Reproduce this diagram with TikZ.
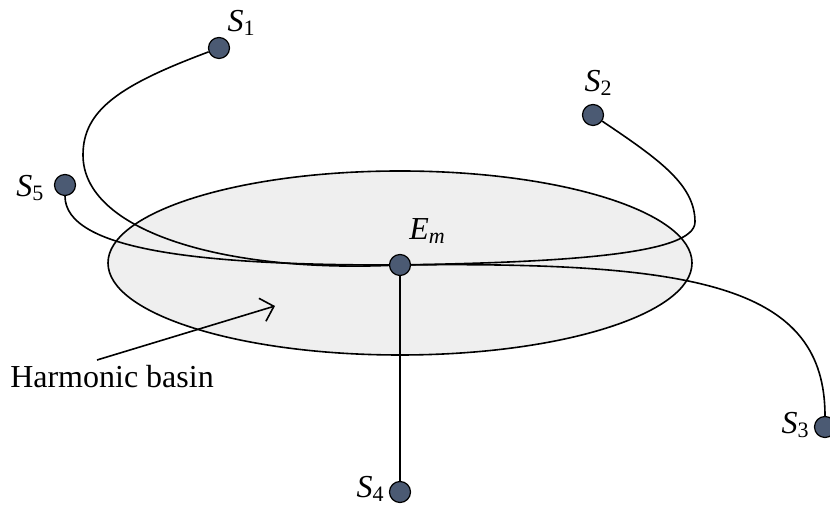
\documentclass[tikz,border=0pt]{standalone}
\usepackage{fontspec}
\setmainfont{Liberation Serif}
\usetikzlibrary{shapes.geometric,positioning,arrows.meta}
\definecolor{dotblue}{RGB}{75,90,115}
\definecolor{basingray}{RGB}{239,239,239}
\newcommand{\stname}[2]{\textit{#1}\raisebox{-0.3ex}{\fontsize{11}{11}\selectfont #2}}

\begin{document}
\begin{tikzpicture}[
    x=0.5pt, y=-0.5pt,
    state/.style={circle, draw, fill=dotblue, minimum size=10.5pt, inner sep=0pt, line width=0.6pt},
    lbl/.style={font=\fontsize{16}{19}\selectfont, inner sep=0pt},
    trail/.style={line width=0.8pt},
    basin/.style={ellipse, draw, fill=basingray, minimum width=292pt, minimum height=92pt, line width=0.8pt}
]
    \useasboundingbox (0,0) rectangle (830,506);

    \node[basin] (basin) at (400,263) {};

    \node[state] (em) at (400,265) {};
    \node[state] (s1) at (219,48) {};
    \node[state] (s2) at (593,115) {};
    \node[state] (s3) at (825,427) {};
    \node[state] (s4) at (400,492) {};
    \node[state] (s5) at (65,185) {};

    \node[lbl] (eml) at (427,231) {\stname{E}{\textit{m}}};
    \node[lbl] (s1l) at (241,23) {\stname{S}{1}};
    \node[lbl] (s2l) at (598,83) {\stname{S}{2}};
    \node[lbl] (s3l) at (795,425) {\stname{S}{3}};
    \node[lbl] (s4l) at (370,489) {\stname{S}{4}};
    \node[lbl] (s5l) at (30,188) {\stname{S}{5}};
    \node[lbl] (hb) at (112,377) {Harmonic basin};

    \draw[trail] (s1) .. controls (120,85) and (83,110) .. (83,155) .. controls (83,230) and (220,272) .. (em);
    \draw[trail] (s5) .. controls (65,250) and (200,265) .. (em);
    \draw[trail] (s2) .. controls (660,160) and (695,185) .. (695,222) .. controls (695,255) and (560,262) .. (em);
    \draw[trail] (em) .. controls (700,262) and (825,287) .. (s3);
    \draw[trail] (em) -- (s4);

    \coordinate (hbtail) at (97,360);
    \coordinate (hbtip) at (275,306);
    \draw[trail, -{Straight Barb[length=6pt,width=12pt]}] (hbtail) -- (hbtip);
\end{tikzpicture}
\end{document}
